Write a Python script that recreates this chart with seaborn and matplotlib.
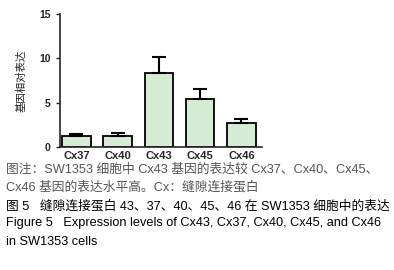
import matplotlib
matplotlib.use("Agg")
import matplotlib.pyplot as plt
import seaborn as sns
import pandas as pd
import numpy as np

genes = ["Cx37", "Cx40", "Cx43", "Cx45", "Cx46"]
expr = [1.2, 1.2, 8.3, 5.4, 2.7]
err = [0.3, 0.4, 1.8, 1.1, 0.4]

df = pd.DataFrame({"gene": genes, "expr": expr})

sns.set_style("ticks")
plt.rcParams["font.family"] = ["Liberation Sans", "Noto Sans CJK SC", "DejaVu Sans"]

fig = plt.figure(figsize=(3.94, 2.70), dpi=100)
ax = fig.add_axes([0.152, 0.456, 0.513, 0.492])

sns.barplot(data=df, x="gene", y="expr", color="#d5ebd3", edgecolor="black",
            linewidth=1.3, width=0.69, saturation=1, ax=ax)
ax.errorbar(np.arange(len(genes)), expr, yerr=[np.zeros(len(err)), err],
            fmt="none", ecolor="black", elinewidth=1.5, capsize=5, capthick=1.5, zorder=1)

ax.set_ylim(0, 15)
ax.set_xlim(-0.4, 4.5)
ax.set_yticks([0, 5, 10, 15])
ax.set_xlabel("")
ax.set_ylabel("基因相对表达", fontsize=7.5, labelpad=9, family=["Noto Sans CJK SC"], color="#222222")
ax.tick_params(axis="y", labelsize=7.5, width=1, length=3)
ax.tick_params(axis="x", length=0, labelsize=8, pad=3)
for t in ax.get_xticklabels() + ax.get_yticklabels():
    t.set_fontweight("bold")
for s in ["left", "bottom"]:
    ax.spines[s].set_linewidth(1.2)
sns.despine(ax=ax)

fs = 9.2
fig.text(0.015, 0.372, "图注：SW1353 细胞中 Cx43 基因的表达较 Cx37、Cx40、Cx45、", fontsize=fs, color="#555555", va="center")
fig.text(0.015, 0.305, "Cx46 基因的表达水平高。Cx：缝隙连接蛋白", fontsize=fs, color="#555555", va="center")
fig.text(0.015, 0.237, "图 5   缝隙连接蛋白 43、37、40、45、46 在 SW1353 细胞中的表达", fontsize=fs, color="black", va="center")
fig.text(0.015, 0.174, "Figure 5   Expression levels of Cx43, Cx37, Cx40, Cx45, and Cx46", fontsize=fs, color="black", va="center")
fig.text(0.015, 0.104, "in SW1353 cells", fontsize=fs, color="black", va="center")

fig.savefig("out.png", dpi=100)
